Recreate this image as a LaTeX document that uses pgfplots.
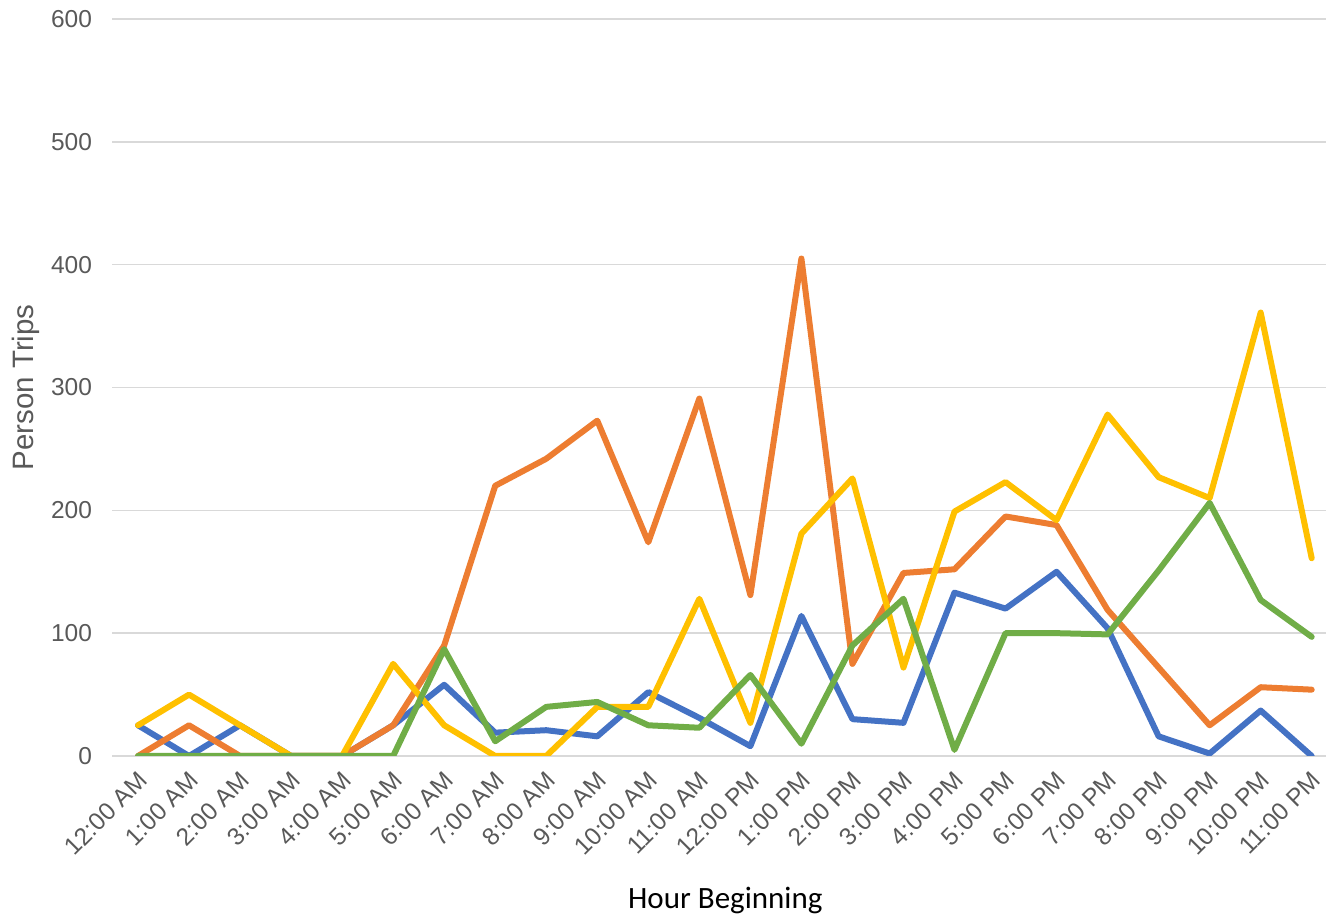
\documentclass[border=0pt]{standalone}
\usepackage{fontspec}
\setmainfont{Liberation Sans}
\newfontfamily\calibri{Carlito}
\usepackage{pgfplots}
\usepackage{pgfplotstable}
\pgfplotsset{compat=1.18}

\definecolor{sblue}{HTML}{4472C4}
\definecolor{sorange}{HTML}{ED7D31}
\definecolor{sgold}{HTML}{FFC000}
\definecolor{sgreen}{HTML}{70AD47}
\definecolor{gridgray}{HTML}{D9D9D9}
\definecolor{txtgray}{HTML}{595959}

% hour index, then the four series
\pgfplotstableread{
h blue orange gold green
0 25 0 25 0
1 0 25 50 0
2 25 0 25 0
3 0 0 0 0
4 0 0 0 0
5 25 25 75 0
6 58 90 25 87
7 19 220 0 12
8 21 242 0 40
9 16 273 40 44
10 52 174 40 25
11 31 291 128 23
12 8 131 27 66
13 114 405 181 10
14 30 75 226 90
15 27 149 72 128
16 133 152 199 5
17 120 195 223 100
18 150 188 192 100
19 104 119 278 99
20 16 72 227 151
21 2 25 210 206
22 37 56 361 127
23 0 54 161 97
}\hours

\begin{document}
\begin{tikzpicture}
\begin{axis}[
    scale only axis,
    width=1213.5pt, height=737pt,
    xmin=-0.5, xmax=23.28,
    ymin=0, ymax=600,
    ytick={0,100,...,600},
    xtick={0,...,23},
    xticklabels={12:00 AM,1:00 AM,2:00 AM,3:00 AM,4:00 AM,5:00 AM,6:00 AM,7:00 AM,8:00 AM,9:00 AM,10:00 AM,11:00 AM,12:00 PM,1:00 PM,2:00 PM,3:00 PM,4:00 PM,5:00 PM,6:00 PM,7:00 PM,8:00 PM,9:00 PM,10:00 PM,11:00 PM},
    axis line style={draw=none},
    major tick length=0pt,
    ymajorgrids,
    grid style={gridgray, line width=1.6pt},
    /pgf/number format/assume math mode=true,
    tick label style={font=\fontsize{24.5}{29}\selectfont, text=txtgray},
    x tick label style={rotate=45, anchor=north east, inner sep=1pt, xshift=-10pt, yshift=-8pt},
    y tick label style={anchor=east, xshift=-17pt},
    ylabel={Person Trips},
    ylabel style={font=\fontsize{29.5}{34}\selectfont, text=txtgray,
        at={(axis description cs:-0.0717,0.5)}, anchor=center},
    xlabel={\calibri Hour Beginning},
    xlabel style={font=\fontsize{31}{36}\selectfont, text=black,
        at={(axis description cs:0.505,-0.2076)}, anchor=base},
    every axis plot/.append style={line width=6pt, line join=round, line cap=round, mark=none},
]
\addplot[sblue] table[x=h, y=blue] {\hours};
\addplot[sorange] table[x=h, y=orange] {\hours};
\addplot[sgold] table[x=h, y=gold] {\hours};
\addplot[sgreen] table[x=h, y=green] {\hours};
\end{axis}
\pgfresetboundingbox
\path[use as bounding box] (-112.5pt,-162pt) rectangle (1213.5pt,756pt);
\end{tikzpicture}
\end{document}
